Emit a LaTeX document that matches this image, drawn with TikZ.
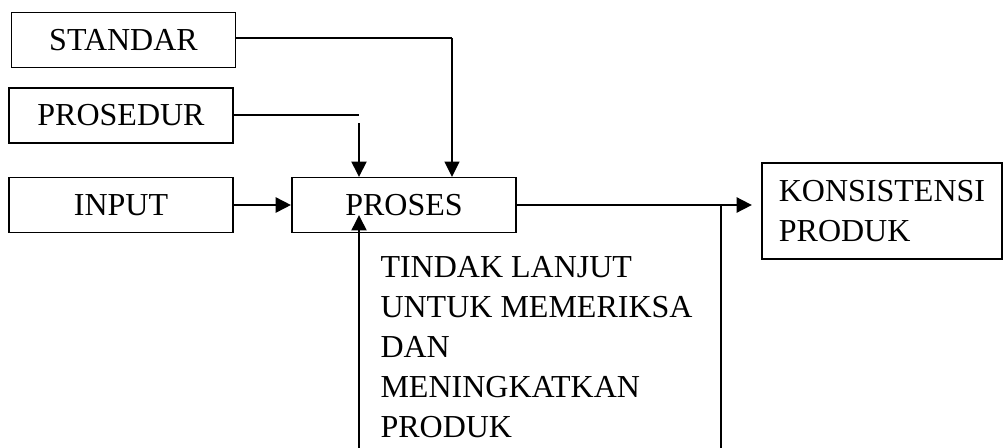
\documentclass[tikz,border=0pt]{standalone}
\usepackage{fontspec}
\setmainfont{Liberation Serif}
\usetikzlibrary{arrows.meta}
\pgfdeclarelayer{edgelayer}
\pgfdeclarelayer{nodelayer}
\pgfsetlayers{edgelayer,nodelayer,main}
\tikzset{font=\fontsize{12}{15}\selectfont}
\tikzstyle{none}=[inner sep=0pt]
\tikzstyle{box}=[rectangle,draw,line width=0.7pt,inner sep=0pt,minimum width=84pt,minimum height=20.6pt]
\tikzstyle{bigbox}=[box,minimum width=90pt,minimum height=36pt,align=left]
\tikzstyle{txt}=[inner sep=0pt,align=left,anchor=north west]
\tikzstyle{arr}=[line width=0.8pt,-{Triangle[length=5.8pt,width=5.6pt]}]

\begin{document}
\begin{tikzpicture}[x=0.375pt,y=-0.375pt]
	\useasboundingbox (0,0) rectangle (1003,447);
	\begin{pgfonlayer}{nodelayer}
		\node [style=box] (0) at (123.5, 40) {STANDAR};
		\node [style=box] (1) at (121, 115.5) {PROSEDUR};
		\node [style=box] (2) at (121, 205) {INPUT};
		\node [style=box] (3) at (404, 205) {PROSES};
		\node [style=bigbox] (4) at (882, 211) {KONSISTENSI\\PRODUK};
		\node [style=txt] (5) at (380, 256) {TINDAK LANJUT\\UNTUK MEMERIKSA\\DAN\\MENINGKATKAN\\PRODUK};
		\node [style=none] (6) at (452, 38) {};
		\node [style=none] (7) at (452, 177) {};
		\node [style=none] (8) at (359, 115) {};
		\node [style=none] (9) at (359, 123) {};
		\node [style=none] (10) at (359, 177) {};
		\node [style=none] (11) at (359, 448) {};
		\node [style=none] (12) at (359, 215) {};
		\node [style=none] (13) at (721, 205) {};
		\node [style=none] (14) at (721, 448) {};
		\node [style=none] (15) at (752, 205) {};
	\end{pgfonlayer}
	\begin{pgfonlayer}{edgelayer}
		\draw[line width=0.7pt] (0.east |- 6) to (6.center);
		\draw[style=arr, line width=0.7pt] (6.center) to (7.center);
		\draw[line width=0.7pt] (1.east |- 8) to (8.center);
		\draw[style=arr] (9.center) to (10.center);
		\draw[style=arr, line width=1.1pt] (2) to (3);
		\draw[style=arr, line width=1.1pt] (3) to (15.center);
		\draw[line width=0.7pt] (13.center) to (14.center);
		\draw[style=arr] (11.center) to (12.center);
	\end{pgfonlayer}
\end{tikzpicture}
\end{document}
